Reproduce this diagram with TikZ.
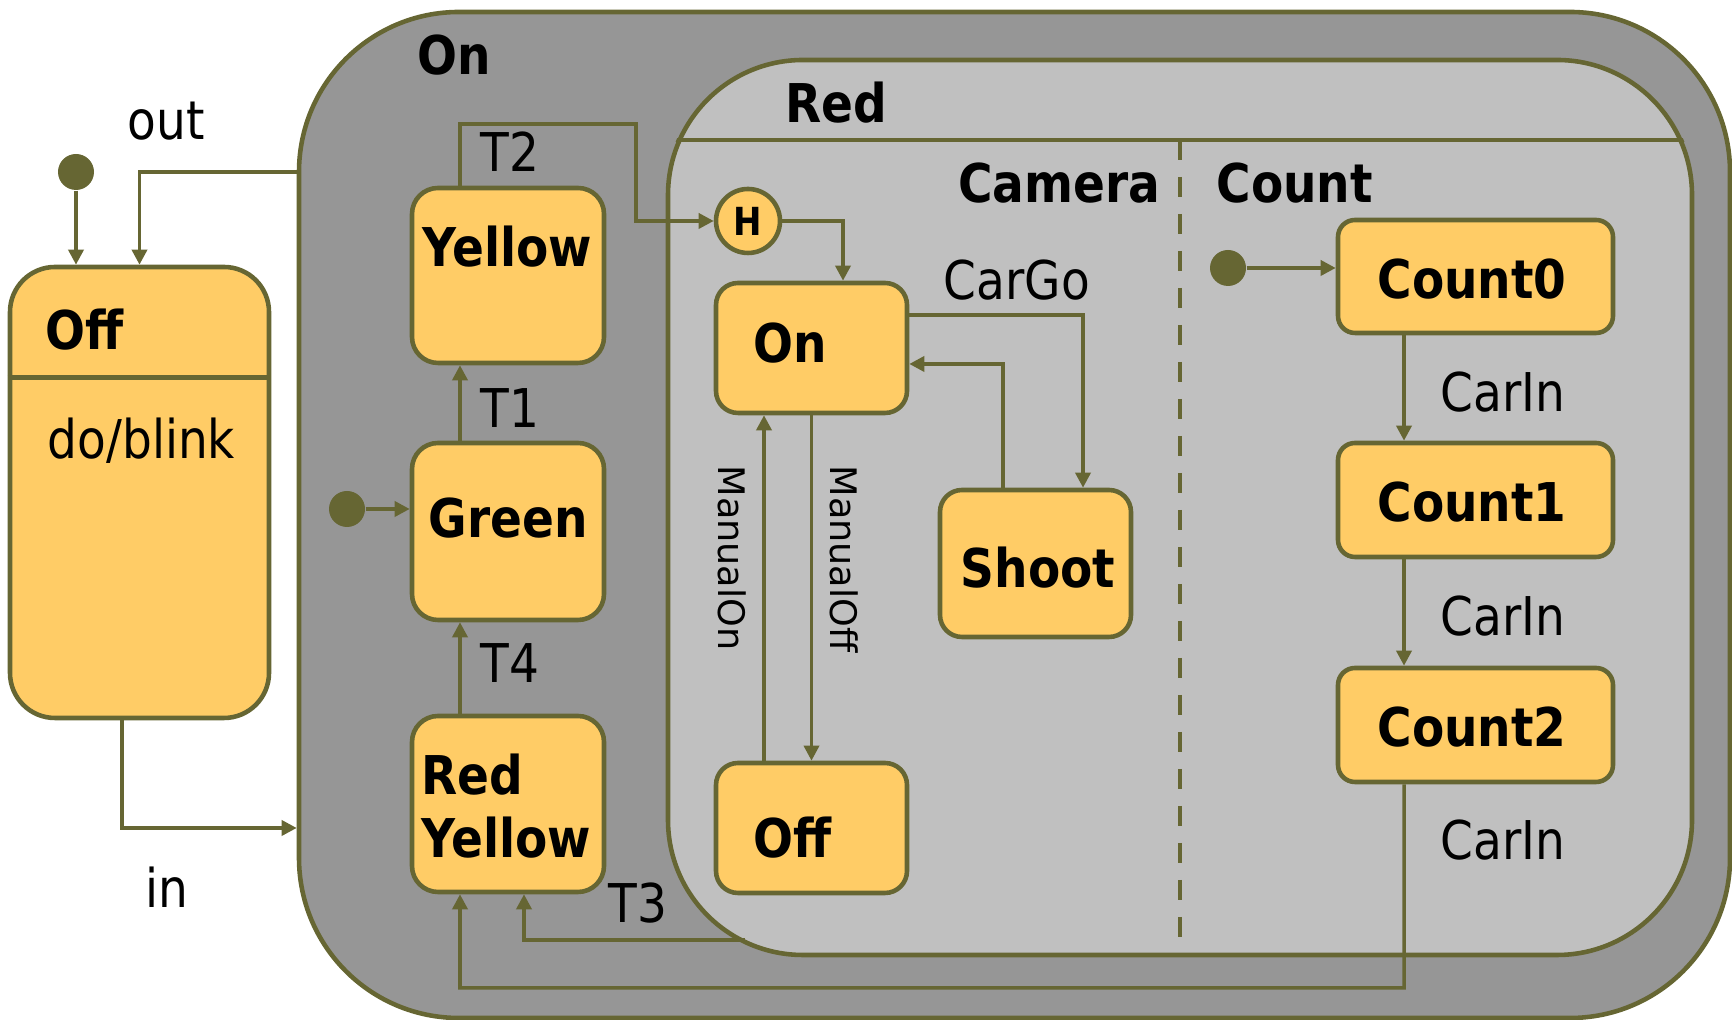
\documentclass[tikz,border=0pt]{standalone}
\usepackage{fontspec}
\setmainfont{DejaVu Sans}[FakeStretch=0.88]
\newfontfamily\manualfont{DejaVu Sans}
\usetikzlibrary{arrows.meta}
\definecolor{umlline}{HTML}{666633}
\definecolor{umlfill}{HTML}{FFCC66}
\definecolor{ongray}{HTML}{969696}
\definecolor{redgray}{HTML}{C0C0C0}

\begin{document}
\begin{tikzpicture}[
    every node/.style={font=\fontsize{15.2}{18}\selectfont, inner sep=0pt},
    region/.style={draw=umlline, line width=1.3pt},
    sbox/.style={region, fill=umlfill, rounded corners=2.6mm},
    sname/.style={font=\fontsize{15.2}{18}\selectfont\bfseries, anchor=base west},
    lbl/.style={anchor=base west},
    manual/.style={font=\manualfont\fontsize{10.4}{12}\selectfont, rotate=-90, anchor=base west},
    initdot/.style={circle, fill=umlline, minimum size=3.6mm},
    arr/.style={draw=umlline, line width=1pt, -{Triangle[length=4.3pt, width=4.3pt]}}
]
\useasboundingbox (0,0) rectangle (17.32,10.20);

% Outer state On
\node[region, fill=ongray, rounded corners=1.6cm, minimum width=14.31cm, minimum height=10.06cm] (outer) at (10.145, 5.05) {};
\node[sname] (outername) at (4.17, 9.45) {On};

% Off state
\node[sbox, rounded corners=4.5mm, minimum width=2.59cm, minimum height=4.51cm] (offst) at (1.395, 5.275) {};
\draw[region] ([yshift=-1.13cm]offst.north west) -- ([yshift=-1.13cm]offst.north east);
\node[sname] (offname) at (0.45, 6.70) {Off};
\node[lbl] (doblink) at (0.47, 5.61) {do/blink};
\node[initdot] (dot1) at (0.76, 8.48) {};

% Red with its two regions
\node[region, fill=redgray, rounded corners=1.35cm, minimum width=10.24cm, minimum height=8.95cm] (red) at (11.80, 5.125) {};
\coordinate (hdr) at (0, 8.80);
\begin{scope}
    \clip[rounded corners=1.35cm] (red.south west) rectangle (red.north east);
    \draw[region] (red.west |- hdr) -- (red.east |- hdr);
    \draw[region, line width=1pt, dash pattern=on 2mm off 1.7mm] (red.center |- hdr) -- (red.south);
\end{scope}
\node[sname] (redname) at (7.85, 8.97) {Red};
\node[sname, anchor=base east] (cameraname) at (11.61, 8.17) {Camera};
\node[sname] (countname) at (12.16, 8.17) {Count};

% Lights
\node[sbox, minimum width=1.92cm, minimum height=1.75cm] (yellow) at (5.08, 7.445) {};
\node[sbox, minimum width=1.92cm, minimum height=1.77cm] (green) at (5.08, 4.885) {};
\node[sbox, minimum width=1.92cm, minimum height=1.76cm] (redyellow) at (5.08, 2.16) {};
\node[sname] (yellowname) at (4.22, 7.53) {Yellow};
\node[sname] (greenname) at (4.28, 4.82) {Green};
\node[sname] (ryname) at (4.21, 2.25) {Red};
\node[sname] (ryname2) at (4.21, 1.62) {Yellow};
\node[initdot] (dot2) at (3.47, 5.11) {};

% Camera region
\node[region, fill=umlfill, circle, minimum size=6.4mm, font=\fontsize{11}{13}\selectfont\bfseries] (hist) at (7.48, 7.99) {H};
\node[sbox, rounded corners=2.2mm, minimum width=1.91cm, minimum height=1.30cm] (camon) at (8.115, 6.72) {};
\node[sbox, rounded corners=2.2mm, minimum width=1.91cm, minimum height=1.47cm] (shoot) at (10.355, 4.565) {};
\node[sbox, rounded corners=2.2mm, minimum width=1.91cm, minimum height=1.30cm] (camoff) at (8.115, 1.92) {};
\node[sname] (camonname) at (7.53, 6.57) {On};
\node[sname] (shootname) at (9.60, 4.32) {Shoot};
\node[sname] (camoffname) at (7.53, 1.62) {Off};

% Count region
\node[sbox, rounded corners=1.7mm, minimum width=2.75cm, minimum height=1.13cm] (count0) at (14.755, 7.435) {};
\node[sbox, rounded corners=1.7mm, minimum width=2.75cm, minimum height=1.14cm] (count1) at (14.755, 5.20) {};
\node[sbox, rounded corners=1.7mm, minimum width=2.75cm, minimum height=1.14cm] (count2) at (14.755, 2.95) {};
\node[sname] (c0name) at (13.77, 7.21) {Count0};
\node[sname] (c1name) at (13.77, 4.98) {Count1};
\node[sname] (c2name) at (13.77, 2.73) {Count2};
\node[initdot] (dot3) at (12.28, 7.52) {};

% Transition labels
\node[lbl] (outlbl) at (1.27, 8.80) {out};
\node[lbl] (inlbl) at (1.45, 1.12) {in};
\node[lbl] (t2lbl) at (4.80, 8.48) {T2};
\node[lbl] (t1lbl) at (4.80, 5.92) {T1};
\node[lbl] (t4lbl) at (4.80, 3.37) {T4};
\node[lbl] (t3lbl) at (6.08, 0.97) {T3};
\node[lbl] (cargolbl) at (9.43, 7.20) {CarGo};
\node[manual] (manonlbl) at (7.18, 5.55) {ManualOn};
\node[manual] (manofflbl) at (8.30, 5.55) {ManualOff};
\node[lbl] (carin1) at (14.40, 6.08) {CarIn};
\node[lbl] (carin2) at (14.40, 3.84) {CarIn};
\node[lbl] (carin3) at (14.40, 1.60) {CarIn};

% Transitions
\coordinate (inlvl) at (0, 1.92);
\coordinate (t2top) at (6.36, 8.96);
\coordinate (retpt) at (4.60, 0.32);
\coordinate (t3start) at (7.45, 0.80);
\draw[arr] (dot1) -- (dot1 |- offst.north);
\draw[arr] (outer.west |- dot1) -| (offst.north);
\draw[arr] ([xshift=-1.75mm]offst.south) |- (inlvl -| outer.west);
\draw[arr] (dot2) -- (dot2 -| green.west);
\draw[arr] ([xshift=-4.8mm]green.north) -- ([xshift=-4.8mm]yellow.south);
\draw[arr] ([xshift=-4.8mm]redyellow.north) -- ([xshift=-4.8mm]green.south);
\draw[arr] ([xshift=-4.8mm]yellow.north) |- (t2top) |- (hist.west);
\draw[arr] (hist.east) -| ([xshift=3.15mm]camon.north);
\draw[arr] ([yshift=3.3mm]camon.east) -| ([xshift=4.75mm]shoot.north);
\draw[arr] ([xshift=-3.25mm]shoot.north) |- ([yshift=-1.6mm]camon.east);
\draw[arr] ([xshift=-4.75mm]camoff.north) -- ([xshift=-4.75mm]camon.south);
\draw[arr] (camon.south) -- (camoff.north);
\draw[arr] (dot3) -- (dot3 -| count0.west);
\draw[arr] ([xshift=-7.15mm]count0.south) -- ([xshift=-7.15mm]count1.north);
\draw[arr] ([xshift=-7.15mm]count1.south) -- ([xshift=-7.15mm]count2.north);
\draw[arr] ([xshift=-7.15mm]count2.south) |- (retpt) -- ([xshift=-4.8mm]redyellow.south);
\draw[arr] (t3start) -| ([xshift=1.6mm]redyellow.south);
\end{tikzpicture}
\end{document}
